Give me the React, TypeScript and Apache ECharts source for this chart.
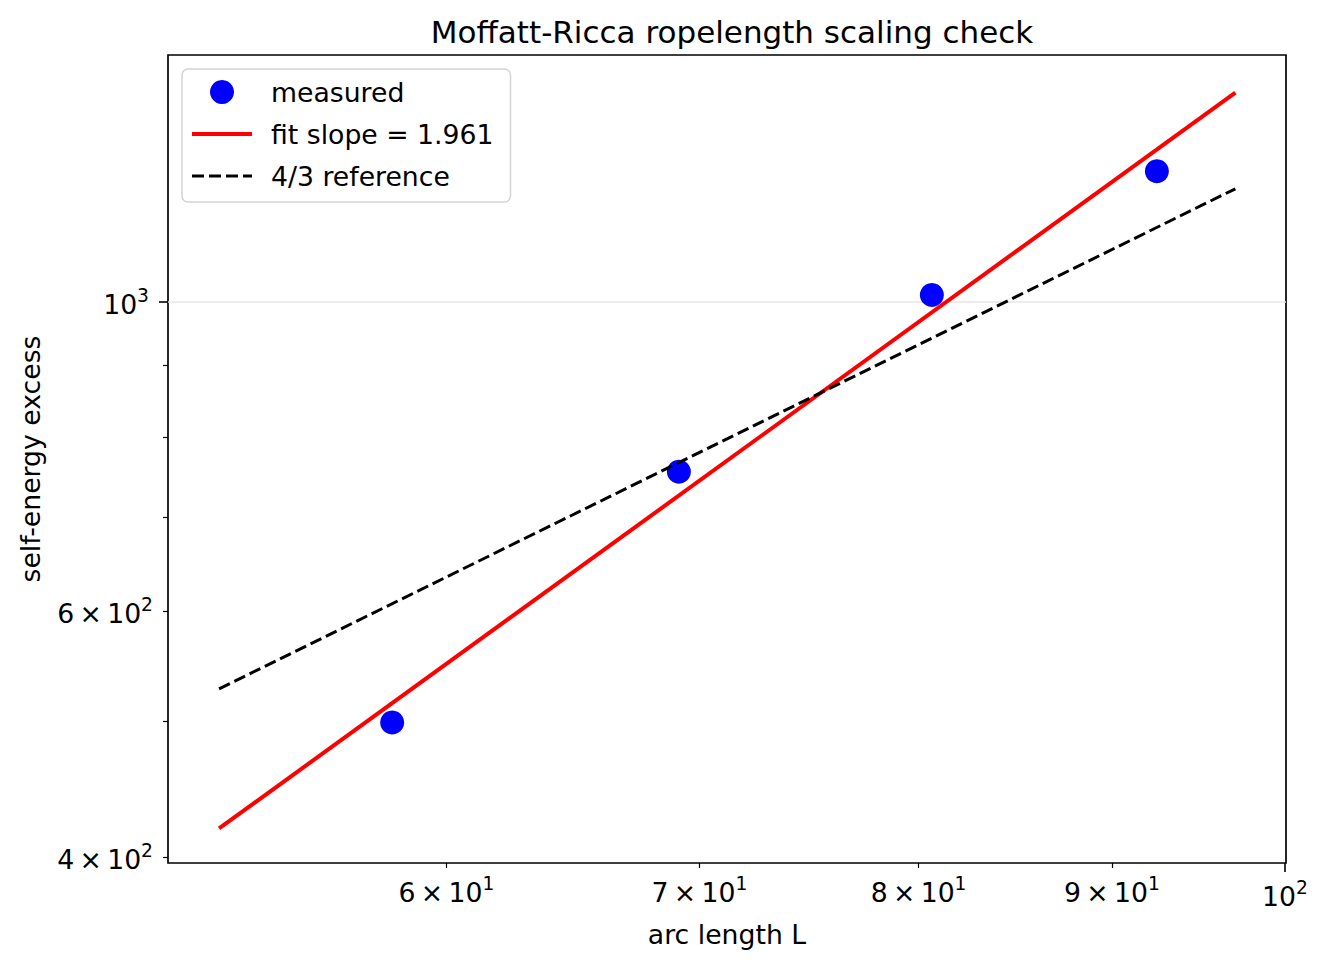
import React, { useEffect, useRef } from 'react';
import * as echarts from 'echarts';

// measured points
const L = [58.05, 69.13, 80.65, 92.5];
const E = [499.4, 755.3, 1011, 1240];
// fit / reference line endpoints
const LINE_L = [52.24, 97.03];
const FIT_E = [419.2, 1411.7];
const REF_E = [527.8, 1204.5];
// axis limits
const X_LIM = [50.64, 100.07];
const Y_LIM = [396.0, 1502];
// ticks: [mantissa text, exponent text]
const X_MAJOR = [100];
const X_MAJOR_LABELS = [['10', '2']];
const X_MINOR = [60, 70, 80, 90];
const X_MINOR_LABELS = [['6\u2009×\u200910', '1'], ['7\u2009×\u200910', '1'], ['8\u2009×\u200910', '1'], ['9\u2009×\u200910', '1']];
const Y_MAJOR = [1000];
const Y_MAJOR_LABELS = [['10', '3']];
const Y_MINOR = [400, 500, 600, 700, 800, 900];
const Y_MINOR_LABELED = [400, 600];
const Y_MINOR_LABELS = [['4\u2009×\u200910', '2'], ['6\u2009×\u200910', '2']];

const FONT = 'DejaVu Sans';
const FS = 26.7;
const lg = (v: number) => Math.log10(v);
const pick = (vals: number[], labels: string[][]) => (v: number) => {
  const i = vals.findIndex((t) => Math.abs(lg(t) - v) < 1e-6);
  return i >= 0 ? `{b|${labels[i][0]}}{s|${labels[i][1]}}` : '';
};

const labelStyle = { fontFamily: FONT, fontSize: FS, color: '#000' };
const rich = {
  b: { fontFamily: FONT, fontSize: FS, color: '#000', lineHeight: 32, verticalAlign: 'bottom' },
  s: { fontFamily: FONT, fontSize: 18.7, color: '#000', lineHeight: 19, verticalAlign: 'top' },
};

export default function App() {
  const ref = useRef<HTMLDivElement>(null);
  useEffect(() => {
    const chart = echarts.init(ref.current!, null, { renderer: 'svg' });
    const xMin = lg(X_LIM[0]);
    const xMax = lg(X_LIM[1]);
    const yMin = lg(Y_LIM[0]);
    const yMax = lg(Y_LIM[1]);
    const option: any = {
      animation: false,
      backgroundColor: '#fff',
      title: {
        text: 'Moffatt-Ricca ropelength scaling check',
        left: 727,
        textAlign: 'center',
        top: 11,
        textStyle: { fontFamily: FONT, fontSize: 31, fontWeight: 'normal', color: '#000' },
      },
      grid: {
        left: 168,
        top: 55,
        width: 1118,
        height: 808,
        show: true,
        borderColor: '#000',
        borderWidth: 1.7,
        backgroundColor: 'transparent',
      },
      legend: {
        orient: 'vertical',
        left: 182,
        top: 69,
        itemWidth: 60,
        itemHeight: 24,
        itemGap: 12,
        padding: [8, 17, 11, 8],
        backgroundColor: '#fff',
        borderColor: '#d4d4d4',
        borderWidth: 1.5,
        borderRadius: 6,
        lineStyle: { width: 'inherit' },
        textStyle: { ...labelStyle, lineHeight: 30, padding: [0, 0, 0, 14] },
        data: [
          { name: 'measured', icon: 'circle' },
          { name: 'fit slope = 1.961', itemStyle: { opacity: 0 } },
          { name: '4/3 reference', itemStyle: { opacity: 0 } },
        ],
      },
      xAxis: [
        {
          type: 'value',
          min: xMin,
          max: xMax,
          position: 'bottom',
          axisLine: { show: false },
          splitLine: { show: false },
          axisTick: { show: true, length: 9, customValues: X_MAJOR.map(lg), lineStyle: { color: '#000', width: 1.6 } },
          axisLabel: { show: true, customValues: X_MAJOR.map(lg), formatter: pick(X_MAJOR, X_MAJOR_LABELS), margin: 15, rich, ...labelStyle },
          name: 'arc length L',
          nameLocation: 'middle',
          nameGap: 58,
          nameTextStyle: labelStyle,
        },
        {
          type: 'value',
          min: xMin,
          max: xMax,
          position: 'bottom',
          axisLine: { show: false },
          splitLine: { show: false },
          axisTick: { show: true, length: 5, customValues: X_MINOR.map(lg), lineStyle: { color: '#000', width: 1.2 } },
          axisLabel: { show: true, customValues: X_MINOR.map(lg), formatter: pick(X_MINOR, X_MINOR_LABELS), margin: 11, rich, ...labelStyle },
        },
      ],
      yAxis: [
        {
          type: 'value',
          min: yMin,
          max: yMax,
          position: 'left',
          axisLine: { show: false },
          splitLine: { show: false },
          axisTick: { show: true, length: 9, customValues: Y_MAJOR.map(lg), lineStyle: { color: '#000', width: 1.6 } },
          axisLabel: { show: true, customValues: Y_MAJOR.map(lg), formatter: pick(Y_MAJOR, Y_MAJOR_LABELS), margin: 19, rich, ...labelStyle },
          name: 'self-energy excess',
          nameLocation: 'middle',
          nameRotate: 90,
          nameGap: 124,
          nameTextStyle: labelStyle,
        },
        {
          type: 'value',
          min: yMin,
          max: yMax,
          position: 'left',
          axisLine: { show: false },
          splitLine: { show: false },
          axisTick: { show: true, length: 5, customValues: Y_MINOR.map(lg), lineStyle: { color: '#000', width: 1.2 } },
          axisLabel: { show: true, customValues: Y_MINOR_LABELED.map(lg), formatter: pick(Y_MINOR_LABELED, Y_MINOR_LABELS), margin: 15, rich, ...labelStyle },
        },
      ],
      series: [
        {
          name: 'measured',
          type: 'scatter',
          xAxisIndex: 0,
          yAxisIndex: 0,
          z: 2,
          symbol: 'circle',
          symbolSize: 24,
          itemStyle: { color: '#0000ff', opacity: 1 },
          data: L.map((l, i) => [lg(l), lg(E[i])]),
          markLine: {
            silent: true,
            symbol: ['none', 'none'],
            label: { show: false },
            lineStyle: { color: '#e6e6e6', width: 1.5, type: 'solid' },
            data: [{ yAxis: lg(Y_MAJOR[0]) }],
            z: 1,
          },
        },
        {
          name: 'fit slope = 1.961',
          type: 'line',
          xAxisIndex: 0,
          yAxisIndex: 0,
          z: 3,
          symbol: 'none',
          showSymbol: false,
          lineStyle: { color: '#ff0000', width: 4 },
          itemStyle: { color: '#ff0000' },
          data: LINE_L.map((l, i) => [lg(l), lg(FIT_E[i])]),
        },
        {
          name: '4/3 reference',
          type: 'line',
          xAxisIndex: 0,
          yAxisIndex: 0,
          z: 4,
          symbol: 'none',
          showSymbol: false,
          lineStyle: { color: '#000', width: 3, type: [12, 5] },
          itemStyle: { color: '#000' },
          data: LINE_L.map((l, i) => [lg(l), lg(REF_E[i])]),
        },
      ],
    };
    chart.setOption(option);
    return () => chart.dispose();
  }, []);
  return (
    <div
      ref={ref}
      style={{ position: 'fixed', left: 0, top: 0, width: 1325, height: 967, background: '#fff' }}
    />
  );
}
